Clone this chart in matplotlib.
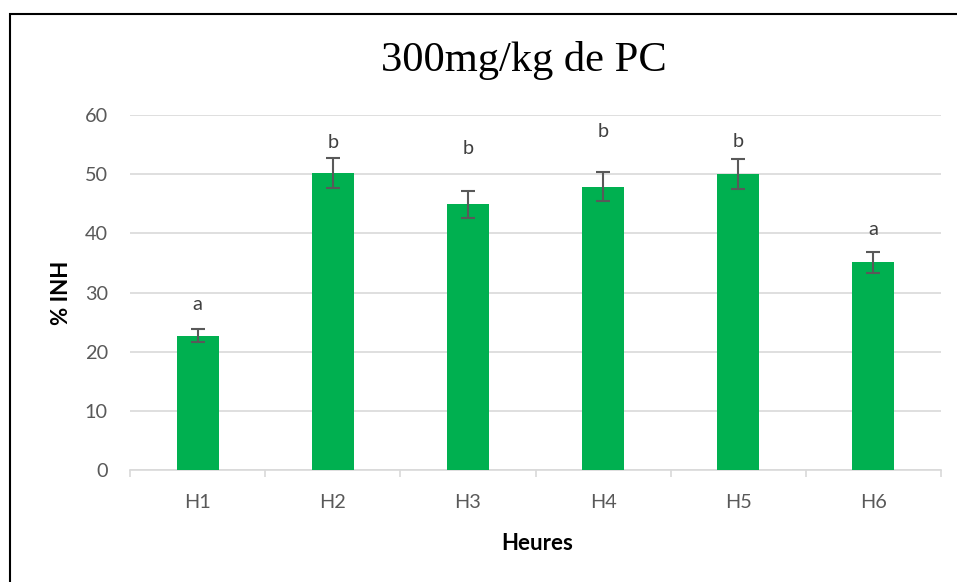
import matplotlib
matplotlib.use("Agg")
import matplotlib.pyplot as plt
from matplotlib.patches import Rectangle
import numpy as np

categories = ["H1", "H2", "H3", "H4", "H5", "H6"]
values = [22.7, 50.2, 44.9, 47.9, 50.0, 35.1]
errors = [1.15, 2.5, 2.25, 2.4, 2.5, 1.75]
letters = ["a", "b", "b", "b", "b", "a"]
letter_y = [27.9, 55.4, 54.3, 57.2, 55.6, 40.6]
yticks = [0, 10, 20, 30, 40, 50, 60]

W, H = 957, 582
fig = plt.figure(figsize=(W / 100, H / 100), dpi=100)
fig.patch.set_facecolor("white")

ax = fig.add_axes([130 / W, 1 - 470 / H, (941 - 130) / W, (470 - 115) / H])
x = np.arange(len(categories))
ax.bar(x, values, width=0.31, color="#00B050", zorder=3)
ax.errorbar(x, values, yerr=errors, fmt="none", ecolor="#595959",
            elinewidth=1.5, capsize=5, capthick=1.5, zorder=4)

tick_font = ["Lato", "DejaVu Sans"]
fs = 14.3
for xi, lt, ly in zip(x, letters, letter_y):
    ax.text(xi, ly, lt, ha="center", va="center", fontsize=fs,
            color="#404040", family=tick_font)

ax.set_xlim(-0.5, len(categories) - 0.5)
ax.set_ylim(0, 60)
ax.set_yticks(yticks)
ax.set_yticklabels([str(v) for v in yticks], family=tick_font, fontsize=fs, color="#595959")
ax.set_xticks(x)
ax.set_xticklabels(categories, family=tick_font, fontsize=fs, color="#595959")
ax.tick_params(axis="y", length=0, pad=16)
ax.tick_params(axis="x", length=0, pad=17)
# category boundary tick marks
ax.set_xticks(np.arange(-0.5, len(categories), 1.0), minor=True)
ax.tick_params(axis="x", which="minor", length=5, width=1.2, color="#d9d9d9", direction="out")

ax.grid(axis="y", color="#d9d9d9", linewidth=1.2, zorder=0)
ax.set_axisbelow(True)
for s in ["top", "right", "left"]:
    ax.spines[s].set_visible(False)
ax.spines["bottom"].set_color("#d9d9d9")
ax.spines["bottom"].set_linewidth(1.2)

fig.text(61 / W, 1 - 293 / H, "% INH", rotation=90, ha="center", va="center",
         fontsize=16, fontweight="bold", family=tick_font, color="black")
fig.text(537 / W, 1 - 544 / H, "Heures", ha="center", va="center",
         fontsize=16, fontweight="bold", family=tick_font, color="black")

fig.text(524 / W, 1 - 60 / H, "300mg/kg de PC", ha="center", va="center",
         fontsize=30.6, family=["Liberation Serif", "DejaVu Serif"], color="black")

fig.add_artist(Rectangle((9.5 / W, -0.1), 1.2, 1.1 - 13.5 / H, transform=fig.transFigure,
                         fill=False, edgecolor="black", linewidth=1.5))

fig.savefig("out.png", dpi=100)
